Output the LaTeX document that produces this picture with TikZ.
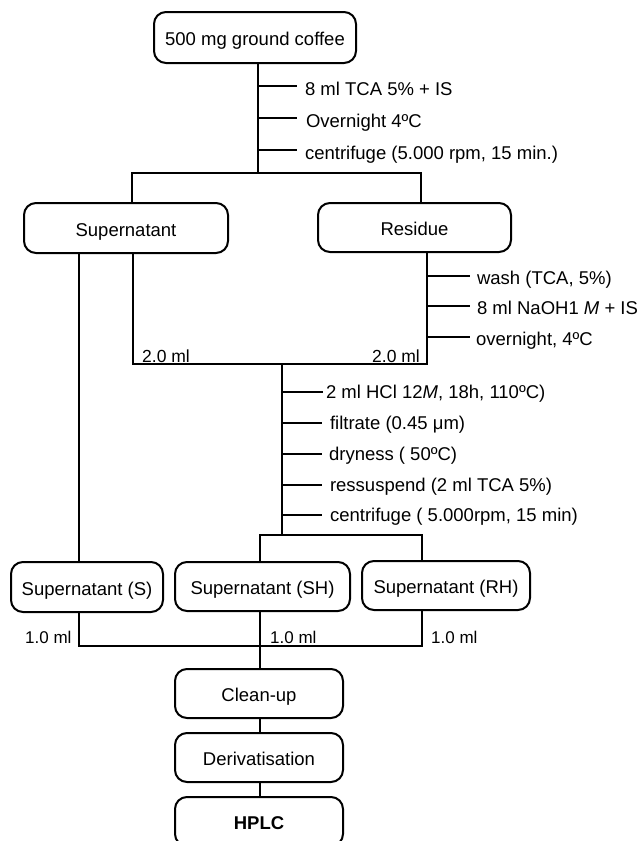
\documentclass[tikz,border=0pt]{standalone}
\usepackage{fontspec}
\setmainfont{Liberation Sans}
\usetikzlibrary{calc}
\begin{document}
\begin{tikzpicture}[x=1pt,y=-1pt,
  line/.style={line width=2.1pt},
  stage/.style={draw, line width=2pt, rounded corners=12pt,
    minimum width=#1, minimum height=50pt, inner sep=0pt,
    text height=16pt, text depth=0pt,
    font=\fontsize{18.5}{22}\selectfont},
  stage/.default=168pt,
  lab/.style={anchor=west, inner ysep=0pt, text height=13.3pt, text depth=0pt,
    font=\fontsize{18.5}{22}\selectfont},
  vol/.style={anchor=base west, inner sep=0pt, font=\fontsize{17.5}{20}\selectfont},
  volb/.style={anchor=base west, inner sep=0pt, font=\fontsize{17}{20}\selectfont}]
\useasboundingbox (0,0) rectangle (638,841);
\clip (0,0) rectangle (638,841);

% process stages
\node[stage=202pt, minimum height=51pt] (coffee) at (255,37.5) {500 mg ground coffee};
\node[stage=204pt] (sup) at (126,228) {Supernatant};
\node[stage=193pt, minimum height=49pt] (res) at (414.5,227.5) {Residue};
\node[stage=152pt] (supS) at (87,587) {Supernatant (S)};
\node[stage=175pt, minimum height=49pt] (supSH) at (262.5,586.5) {Supernatant (SH)};
\node[stage=168pt, minimum height=49pt] (supRH) at (446,585.5) {Supernatant (RH)};
\node[stage, minimum height=49pt] (clean) at (259,693.5) {Clean-up};
\node[stage, minimum height=49pt] (deriv) at (259,757.5) {Derivatisation};
\node[stage, minimum height=49pt, font=\fontsize{18.5}{22}\selectfont\bfseries] (hplc) at (259,821.5) {HPLC};

% extraction of the ground coffee
\coordinate (split1) at (258,173);
\draw[line] (coffee.south -| split1) -- (split1);
\coordinate (t1) at (258,86);
\coordinate (t2) at (258,118);
\coordinate (t3) at (258,150);
\draw[line] (t1) -- ++(39,0) node[lab, inner xsep=7pt, yshift=-3pt] (lt1) {8 ml TCA 5\% + IS};
\draw[line] (t2) -- ++(39,0) node[lab, inner xsep=8pt, yshift=-3pt] (lt2) {Overnight 4ºC};
\draw[line] (t3) -- ++(39,0) node[lab, inner xsep=7pt, yshift=-3pt] (lt3) {centrifuge (5.000 rpm, 15 min.)};

% split into supernatant and residue
\coordinate (supA) at (132,173);
\coordinate (resA) at (421,173);
\draw[line] (supA |- sup.north) -- (supA) -- (resA) -- (resA |- res.north);

% supernatant taken directly
\coordinate (xS) at (79,0);
\draw[line] (xS |- sup.south) -- (xS |- supS.north);

% hydrolysis branch
\coordinate (mL) at (133,364);
\coordinate (mR) at (427,364);
\draw[line] (mL |- sup.south) -- (mL) -- (mR) -- (mR |- res.south);
\coordinate (r1) at (427,276);
\coordinate (r2) at (427,306);
\coordinate (r3) at (427,337);
\draw[line] (r1) -- ++(43,0) node[lab, inner xsep=6pt, yshift=-2pt] (lr1) {wash (TCA, 5\%)};
\draw[line] (r2) -- ++(43,0) node[lab, inner xsep=6pt, yshift=-2pt] (lr2) {8 ml NaOH1 \textit{M} + IS};
\draw[line] (r3) -- ++(43,0) node[lab, inner xsep=5pt, yshift=-2pt] (lr3) {overnight, 4ºC};
\node[vol] (v1) at (142,362) {2.0 ml};
\node[vol] (v2) at (372,362) {2.0 ml};

\coordinate (mC) at (282,364);
\coordinate (hB) at (282,535);
\draw[line] (mC) -- (hB);
\coordinate (h1) at (282,392);
\coordinate (h2) at (282,423);
\coordinate (h3) at (282,454);
\coordinate (h4) at (282,485);
\coordinate (h5) at (282,515);
\draw[line] (h1) -- ++(41,0) node[lab, inner xsep=2pt] (lh1) {2 ml HCl 12\textit{M}, 18h, 110ºC)};
\draw[line] (h2) -- ++(40,0) node[lab, inner xsep=7pt] (lh2) {filtrate (0.45 μm)};
\draw[line] (h3) -- ++(40,0) node[lab, inner xsep=6pt] (lh3) {dryness ( 50ºC)};
\draw[line] (h4) -- ++(40,0) node[lab, inner xsep=7pt] (lh4) {ressuspend (2 ml TCA 5\%)};
\draw[line] (h5) -- ++(40,0) node[lab, inner xsep=7pt] (lh5) {centrifuge ( 5.000rpm, 15 min)};

\coordinate (hL) at (260,535);
\coordinate (hR) at (422,535);
\draw[line] (hL |- supSH.north) -- (hL) -- (hR) -- (hR |- supRH.north);

% pooling of the three fractions
\coordinate (bL) at (79,646);
\coordinate (bC) at (260,646);
\coordinate (bR) at (422,646);
\draw[line] (bL |- supS.south) -- (bL) -- (bR) -- (bR |- supRH.south);
\draw[line] (bC |- supSH.south) -- (bC |- clean.north);
\node[volb] (w1) at (25,643) {1.0 ml};
\node[volb] (w2) at (270,643) {1.0 ml};
\node[volb] (w3) at (431,643) {1.0 ml};

% analysis
\draw[line] (bC |- clean.south) -- (bC |- deriv.north);
\draw[line] (bC |- deriv.south) -- (bC |- hplc.north);
\end{tikzpicture}
\end{document}
